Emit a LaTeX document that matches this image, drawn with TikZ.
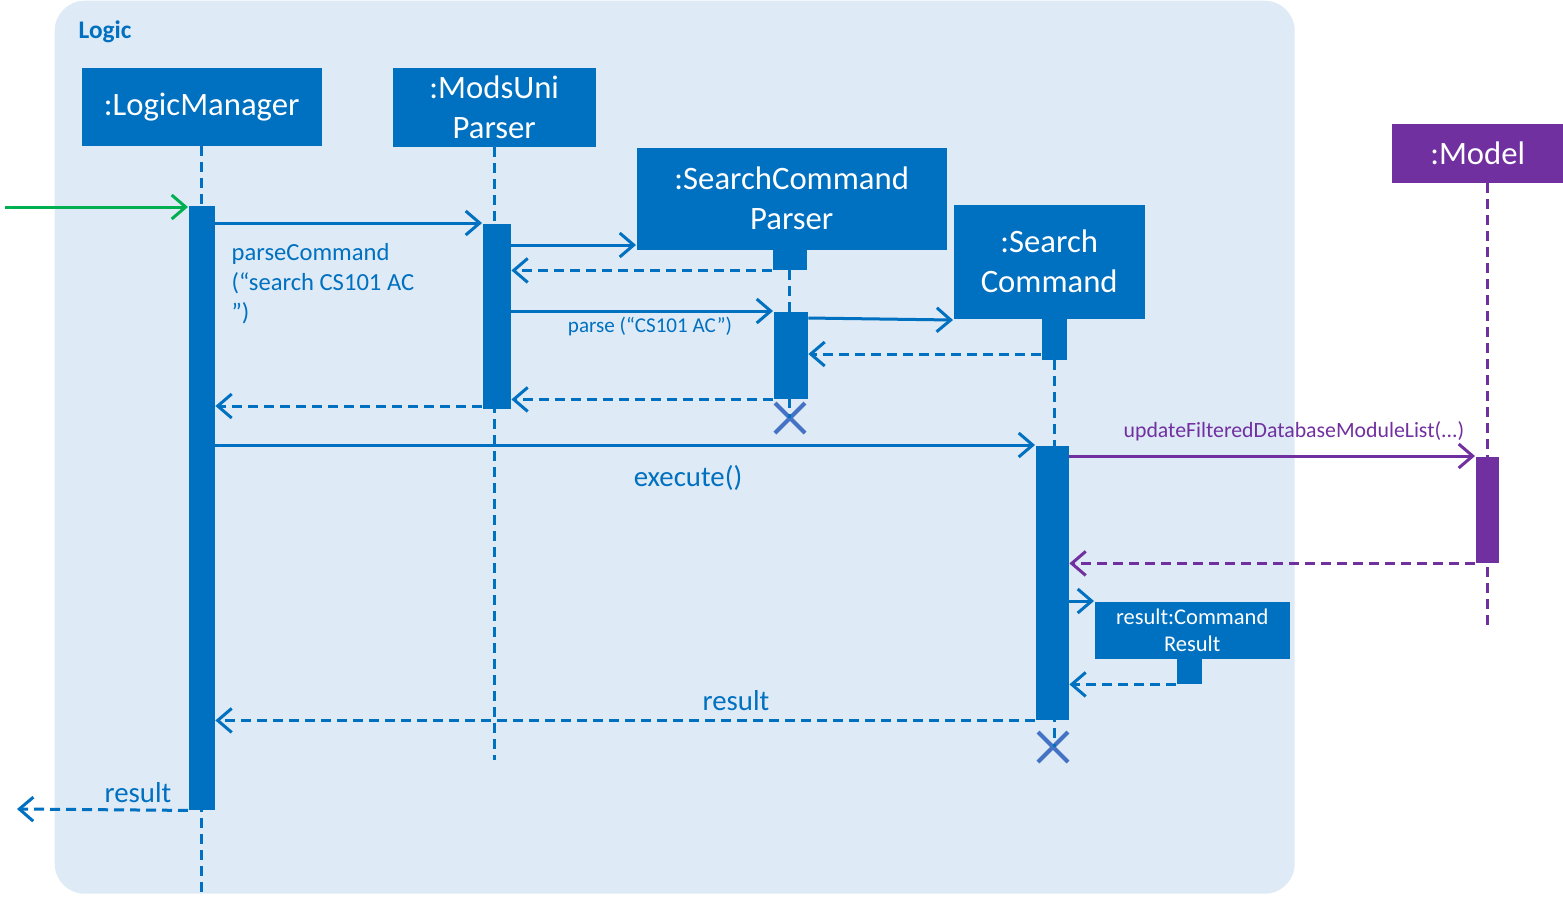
\documentclass[tikz,border=0pt]{standalone}
\usepackage{fontspec}
\setmainfont{Carlito}
\usepackage{xcolor}
\usetikzlibrary{positioning,arrows.meta,calc,shapes.misc}
\definecolor{cBlue}  {HTML}{0070C0}
\definecolor{cPurple}{HTML}{7030A0}
\definecolor{cGreen} {HTML}{00B050}
\definecolor{cBg}    {HTML}{DEEAF6}
\definecolor{cX}     {HTML}{4472C4}
\tikzset{
  >={Straight Barb[length=1.4mm,width=2.4mm]},
  obj/.style={fill=cBlue,text=white,align=center,inner sep=0pt,anchor=north west,
              font=\fontsize{9.3}{11.4}\selectfont},
  bar/.style={fill=cBlue,inner sep=0pt,anchor=north west},
  life/.style={cBlue,line width=0.3mm,dash pattern=on 1mm off 0.6mm},
  msg/.style={->,cBlue,line width=0.3mm},
  ret/.style={msg,dash pattern=on 1mm off 0.6mm},
  kill/.style={cross out,draw=cX,line width=0.4mm,minimum size=2.6mm,inner sep=0pt},
  lbl/.style={cBlue,inner sep=0pt},
}
\begin{document}
\begin{tikzpicture}[x=0.1mm,y=-0.1mm]
  \useasboundingbox (0,0) rectangle (1563,896);
  \node[fill=cBg,rounded corners=3mm,anchor=north west,inner sep=0pt,
        minimum width=124mm,minimum height=89.3mm] (logic) at (54,0) {};
  \node[lbl,anchor=west,font=\fontsize{7.2}{8.6}\selectfont\bfseries] (logicname) at (78,32) {Logic};

  \node[obj,minimum width=24mm,minimum height=7.8mm] (lm) at (81,67) {:LogicManager};
  \node[obj,minimum width=20.3mm,minimum height=7.9mm] (mu) at (392,67) {:ModsUni\\Parser};
  \node[obj,minimum width=31mm,minimum height=10.2mm] (scp) at (636,147) {:SearchCommand\\Parser};
  \node[obj,minimum width=19.1mm,minimum height=11.4mm] (sc) at (953,204) {:Search\\Command};
  \node[obj,fill=cPurple,minimum width=17.2mm,minimum height=5.9mm] (model) at (1391,123) {:Model};
  \node[obj,minimum width=19.5mm,minimum height=5.7mm,font=\fontsize{6.4}{7.7}\selectfont] (res) at (1094,601) {result:Command\\Result};

  \node[bar,minimum width=3.4mm,minimum height=2mm] (scpTab) at (772,249) {};
  \node[bar,minimum width=2.5mm,minimum height=4.1mm] (scTab) at (1041,318) {};
  \node[bar,minimum width=2.5mm,minimum height=2.5mm] (resTab) at (1176,658) {};

  \node[kill] (scpX) at (790,418) {};
  \node[kill] (scX) at (1053,747) {};
  \coordinate (lmEnd) at (202,893);
  \coordinate (muEnd) at (493,760);
  \coordinate (modEnd) at (1487,625);
  \coordinate (start) at (5,207);
  \coordinate (outEnd) at (17,809);

  \draw[life] (lm.south) -- (lm.south |- lmEnd);
  \draw[life] (mu.south) -- (mu.south |- muEnd);
  \draw[life] (scpTab.south) -- (scpTab.south |- scpX.center);
  \draw[life] (scTab.south) -- (scTab.south |- scX.center);
  \draw[life,cPurple] (modEnd |- model.south) -- (modEnd);

  \node[bar,minimum width=2.6mm,minimum height=60.4mm] (lmA) at (188,205) {};
  \node[bar,minimum width=2.8mm,minimum height=18.5mm] (muA) at (482,223) {};
  \node[bar,minimum width=3.4mm,minimum height=8.7mm] (scpA) at (773,311) {};
  \node[bar,minimum width=3.3mm,minimum height=27.4mm] (scA) at (1035,445) {};
  \node[bar,fill=cPurple,minimum width=2.3mm,minimum height=10.6mm] (modA) at (1475,456) {};

  \draw[msg,cGreen] (start) -- (start -| lmA.west);
  \draw[msg] (lmA.east |- muA.north) -- (muA.north west);
  \draw[msg] (muA.east |- 0,245) -- (scp.west |- 0,245);
  \draw[ret] (scpTab.south west) -- (muA.east |- scpTab.south);
  \draw[msg] (muA.east |- scpA.north) -- (scpA.north west);
  \draw[msg] (scpA.east |- 0,318) -- (sc.west |- 0,320);
  \draw[ret] (scTab.west |- 0,354) -- (scpA.east |- 0,354);
  \draw[ret] (scpA.south west) -- (muA.east |- scpA.south);
  \draw[ret] (muA.west |- 0,406) -- (lmA.east |- 0,406);
  \draw[msg] (lmA.east |- scA.north) -- (scA.north west);
  \draw[msg,cPurple] (scA.east |- modA.north) -- (modA.north west);
  \draw[ret,cPurple] (modA.south west) -- (scA.east |- modA.south);
  \draw[msg] (scA.east |- res.north) -- (res.north west);
  \draw[ret] (resTab.south west) -- (scA.east |- resTab.south);
  \draw[ret] (scA.south west) -- (lmA.east |- scA.south);
  \draw[ret] (lmA.south west) -- (outEnd);

  \node[lbl,anchor=west,align=left,font=\fontsize{7}{8.5}\selectfont] (parseCmd) at (231,284)
    {parseCommand\\(“search CS101 AC\\”)};
  \node[lbl,font=\fontsize{6}{7}\selectfont] (parseLbl) at (650,326) {parse (“CS101 AC”)};
  \node[lbl,font=\fontsize{8.2}{10}\selectfont] (execLbl) at (688,478) {execute()};
  \node[lbl,text=cPurple,font=\fontsize{6.2}{7.5}\selectfont] (updLbl) at (1294,431) {updateFilteredDatabaseModuleList(...)};
  \node[lbl,font=\fontsize{8.2}{10}\selectfont] (resLbl) at (736,701) {result};
  \node[lbl,font=\fontsize{8.2}{10}\selectfont] (outLbl) at (138,793) {result};
\end{tikzpicture}
\end{document}
